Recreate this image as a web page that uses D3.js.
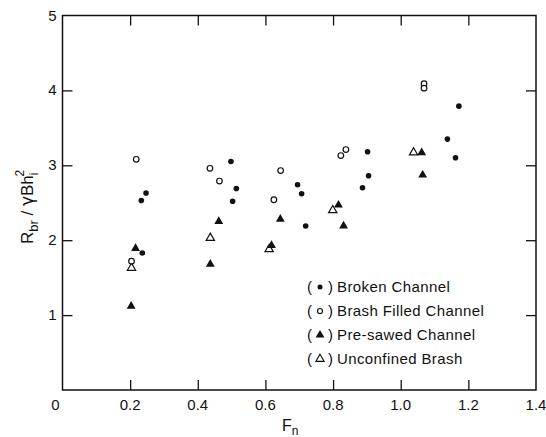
<!DOCTYPE html>
<html><head><meta charset="utf-8">
<script src="https://cdn.jsdelivr.net/npm/d3@7"></script>
<style>body{margin:0;background:#fff}svg{display:block}text{font-family:"Liberation Sans",Arial,sans-serif;fill:#111}</style>
</head><body><svg id="c" width="546" height="437"></svg>
<script>
const xTicks = [0.2, 0.4, 0.6, 0.8, 1.0, 1.2];
const xTickLabels = ["0.2", "0.4", "0.6", "0.8", "1.0", "1.2", "1.4"];
const yTicks = [1, 2, 3, 4];
const yTickLabels = ["1", "2", "3", "4", "5"];

const brokenX = [0.233, 0.247, 0.236, 0.498, 0.514, 0.503, 0.695, 0.707, 0.719, 0.902, 0.905, 0.887, 1.138, 1.162, 1.172];
const brokenY = [2.53, 2.63, 1.83, 3.05, 2.69, 2.52, 2.74, 2.62, 2.19, 3.18, 2.86, 2.70, 3.35, 3.10, 3.79];
const brashX = [0.218, 0.204, 0.436, 0.464, 0.645, 0.625, 0.823, 0.838, 1.069, 1.069];
const brashY = [3.08, 1.72, 2.96, 2.79, 2.93, 2.54, 3.13, 3.21, 4.09, 4.03];
const sawedX = [0.216, 0.203, 0.437, 0.462, 0.618, 0.644, 0.816, 0.831, 1.062, 1.065];
const sawedY = [1.89, 1.12, 1.68, 2.25, 1.93, 2.28, 2.47, 2.19, 3.17, 2.87];
const unconfX = [0.204, 0.437, 0.611, 0.799, 1.038];
const unconfY = [1.63, 2.03, 1.88, 2.40, 3.17];
const seriesNames = ["Broken Channel", "Brash Filled Channel", "Pre-sawed Channel", "Unconfined Brash"];

const svg = d3.select("#c");
const L = 62.5, R = 536, T = 15.5, B = 390;
const x = d3.scaleLinear().domain([0, 1.4]).range([L, R]);
const y = d3.scaleLinear().domain([0, 5]).range([B, T]);
const ink = "#111";

svg.append("rect").attr("x", L).attr("y", T).attr("width", R - L).attr("height", B - T)
  .attr("fill", "none").attr("stroke", ink).attr("stroke-width", 1.5);

const tickLen = 10;
const gb = svg.append("g").attr("transform", `translate(0,${B})`)
  .call(d3.axisBottom(x).tickValues(xTicks).tickSizeInner(-tickLen).tickSizeOuter(0).tickFormat(""));
gb.select(".domain").remove();
const gt = svg.append("g").attr("transform", `translate(0,${T})`)
  .call(d3.axisTop(x).tickValues(xTicks).tickSizeInner(-tickLen).tickSizeOuter(0).tickFormat(""));
gt.select(".domain").remove();
const gl = svg.append("g").attr("transform", `translate(${L},0)`)
  .call(d3.axisLeft(y).tickValues(yTicks).tickSizeInner(-tickLen).tickSizeOuter(0).tickFormat(""));
gl.select(".domain").remove();
const gr = svg.append("g").attr("transform", `translate(${R},0)`)
  .call(d3.axisRight(y).tickValues(yTicks).tickSizeInner(-tickLen).tickSizeOuter(0).tickFormat(""));
gr.select(".domain").remove();
svg.selectAll(".tick line").attr("stroke", ink).attr("stroke-width", 1.3);

const xLabVals = xTicks.concat([1.4]);
svg.append("g").selectAll("text").data(xLabVals).join("text")
  .attr("x", (d) => x(d)).attr("y", B + 20).attr("text-anchor", "middle")
  .attr("font-size", 15).text((d, i) => xTickLabels[i]);
svg.append("text").attr("x", L - 7).attr("y", B + 20).attr("text-anchor", "middle")
  .attr("font-size", 15).text("0");
const yLabVals = yTicks.concat([5]);
svg.append("g").selectAll("text").data(yLabVals).join("text")
  .attr("x", L - 6).attr("y", (d) => y(d) + 5).attr("text-anchor", "end")
  .attr("font-size", 15).text((d, i) => yTickLabels[i]);

const xt = svg.append("text").attr("x", 282).attr("y", 431).attr("font-size", 16);
xt.append("tspan").text("F");
xt.append("tspan").attr("font-size", 12).attr("dy", 4).text("n");

const yt = svg.append("text").attr("transform", "translate(33,207) rotate(-90)")
  .attr("text-anchor", "middle").attr("font-size", 17);
yt.append("tspan").text("R");
yt.append("tspan").attr("font-size", 13).attr("dy", 5).text("br");
yt.append("tspan").attr("dy", -5).text(" / ");
yt.append("tspan").attr("font-family", "DejaVu Sans").text("γ");
yt.append("tspan").text("Bh");
yt.append("tspan").attr("font-size", 12).attr("dy", 5).text("i");
yt.append("tspan").attr("font-size", 12).attr("dx", -4).attr("dy", -14).text("2");

const triFill = d3.symbol().type(d3.symbolTriangle).size(34);
const triOpen = d3.symbol().type(d3.symbolTriangle).size(30);
function drawSeries(xs, ys, kind) {
  const data = xs.map((v, i) => [v, ys[i]]);
  const g = svg.append("g");
  if (kind === "fc") {
    g.selectAll("circle").data(data).join("circle")
      .attr("cx", (d) => x(d[0])).attr("cy", (d) => y(d[1])).attr("r", 2.8).attr("fill", ink);
  } else if (kind === "oc") {
    g.selectAll("circle").data(data).join("circle")
      .attr("cx", (d) => x(d[0])).attr("cy", (d) => y(d[1])).attr("r", 2.8)
      .attr("fill", "#fff").attr("stroke", ink).attr("stroke-width", 1.2);
  } else if (kind === "ft") {
    g.selectAll("path").data(data).join("path")
      .attr("transform", (d) => `translate(${x(d[0])},${y(d[1])})`).attr("d", triFill).attr("fill", ink);
  } else {
    g.selectAll("path").data(data).join("path")
      .attr("transform", (d) => `translate(${x(d[0])},${y(d[1])})`).attr("d", triOpen)
      .attr("fill", "#fff").attr("stroke", ink).attr("stroke-width", 1.2);
  }
}
drawSeries(unconfX, unconfY, "ot");
drawSeries(brashX, brashY, "oc");
drawSeries(sawedX, sawedY, "ft");
drawSeries(brokenX, brokenY, "fc");

const kinds = ["fc", "oc", "ft", "ot"];
const lg = svg.append("g");
seriesNames.forEach((name, i) => {
  const ly = 287 + i * 24;
  lg.append("text").attr("x", 307).attr("y", ly + 5).attr("font-size", 15).text("(");
  lg.append("text").attr("x", 328).attr("y", ly + 5).attr("font-size", 15).text(")");
  const k = kinds[i];
  if (k === "fc") lg.append("circle").attr("cx", 320).attr("cy", ly).attr("r", 2.5).attr("fill", ink);
  else if (k === "oc") lg.append("circle").attr("cx", 320).attr("cy", ly).attr("r", 2.5).attr("fill", "#fff").attr("stroke", ink).attr("stroke-width", 1.2);
  else if (k === "ft") lg.append("path").attr("transform", `translate(320,${ly})`).attr("d", triFill).attr("fill", ink);
  else lg.append("path").attr("transform", `translate(320,${ly})`).attr("d", triOpen).attr("fill", "#fff").attr("stroke", ink).attr("stroke-width", 1.1);
  lg.append("text").attr("x", 337).attr("y", ly + 5).attr("font-size", 15).attr("letter-spacing", 0.4).text(name);
});
</script></body></html>
